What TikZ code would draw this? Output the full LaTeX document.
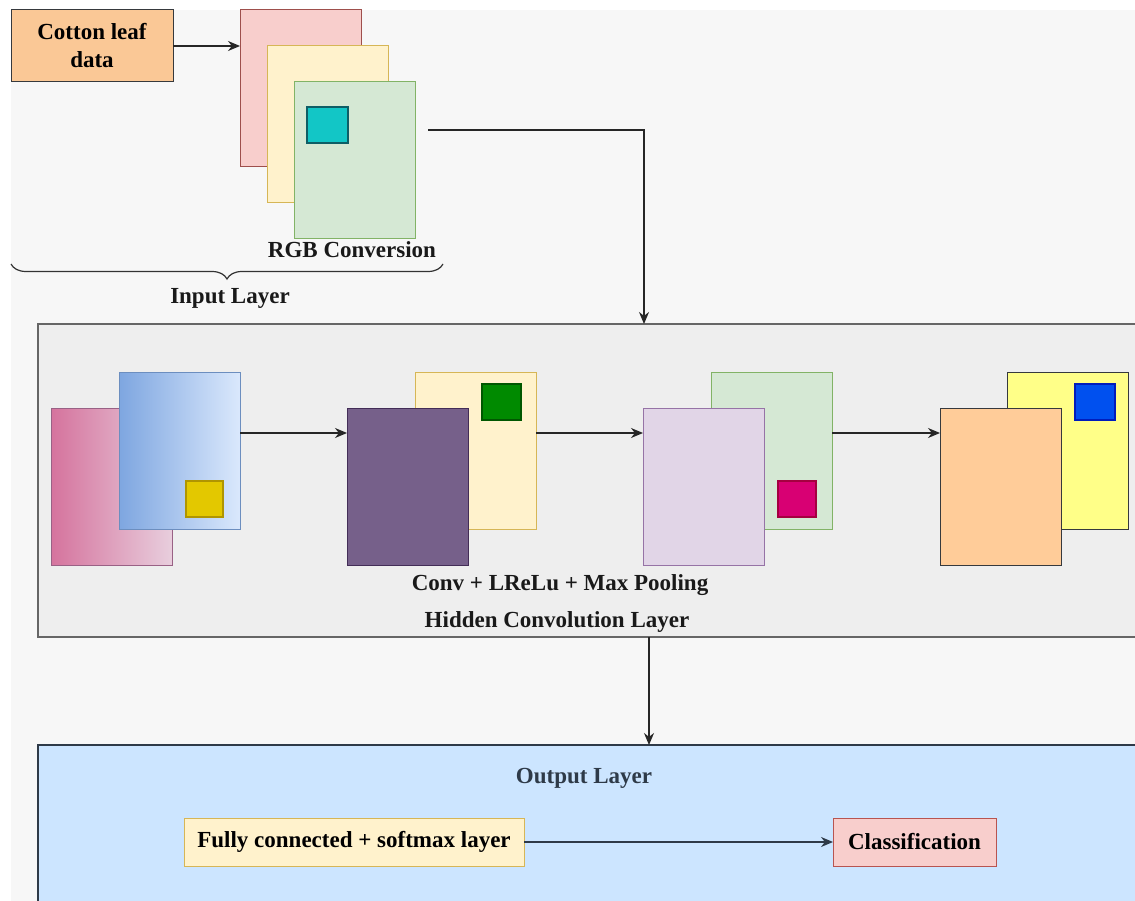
\documentclass[tikz,border=0pt]{standalone}
\usepackage{fontspec}
\setmainfont{Liberation Serif}
\usetikzlibrary{arrows.meta,decorations.pathreplacing}
\definecolor{bgF}{HTML}{F7F7F7}
\definecolor{dark}{HTML}{36393D}
\definecolor{orangeF}{HTML}{FAC896}
\definecolor{pinkF}{HTML}{F8CECC}
\definecolor{pinkD}{HTML}{9E4F4C}
\definecolor{creamF}{HTML}{FFF2CC}
\definecolor{creamD}{HTML}{D6B656}
\definecolor{greenF}{HTML}{D5E8D4}
\definecolor{greenD}{HTML}{82B366}
\definecolor{tealF}{HTML}{12C6C6}
\definecolor{tealD}{HTML}{0E5E66}
\definecolor{hidF}{HTML}{EEEEEE}
\definecolor{hidD}{HTML}{666666}
\definecolor{pgL}{HTML}{D5739D}
\definecolor{pgR}{HTML}{E8CEDD}
\definecolor{pgD}{HTML}{996185}
\definecolor{bgL}{HTML}{7EA6E0}
\definecolor{bgR}{HTML}{DAE8FC}
\definecolor{bgD}{HTML}{6C8EBF}
\definecolor{ysqF}{HTML}{E3C800}
\definecolor{ysqD}{HTML}{B09500}
\definecolor{gsqF}{HTML}{008A00}
\definecolor{gsqD}{HTML}{005700}
\definecolor{purpF}{HTML}{76608A}
\definecolor{purpD}{HTML}{432D57}
\definecolor{lavF}{HTML}{E1D5E7}
\definecolor{lavD}{HTML}{9673A6}
\definecolor{msqF}{HTML}{D80073}
\definecolor{msqD}{HTML}{A50040}
\definecolor{yelF}{HTML}{FFFF88}
\definecolor{bsqF}{HTML}{0050EF}
\definecolor{bsqD}{HTML}{001DBC}
\definecolor{orgF}{HTML}{FFCC99}
\definecolor{outF}{HTML}{CCE5FF}
\definecolor{outD}{HTML}{2E3A48}
\definecolor{clsD}{HTML}{B85450}
\begin{document}
\begin{tikzpicture}[x=1pt,y=-1pt,
  font=\bfseries\fontsize{23}{27}\selectfont,
  lay/.style={rectangle, inner sep=0pt, outer sep=0pt, minimum width=121pt, minimum height=157pt, anchor=north west, line width=1pt},
  sq/.style={rectangle, inner sep=0pt, outer sep=0pt, minimum width=39pt, minimum height=36pt, anchor=north west, line width=1.2pt},
  txtbox/.style={rectangle, inner sep=0pt, outer sep=0pt, align=center, line width=1pt},
  lbl/.style={inner sep=0pt, text=black!90},
  arr/.style={-{Stealth[length=12pt,width=10pt]}, line width=1.2pt, draw=black!85}]
\useasboundingbox (0,0) rectangle (1135,901);
\fill[bgF] (11,10) rectangle (1135,901);

% ---------- input layer ----------
\node[txtbox, fill=orangeF, draw=dark, minimum width=162pt, minimum height=72pt] (cot) at (92,46) {Cotton leaf\\[1pt]data};
\node[lay, fill=pinkF, draw=pinkD] (r1) at (240,10) {};
\node[lay, fill=creamF, draw=creamD] (r2) at (267,46) {};
\node[lay, fill=greenF, draw=greenD] (r3) at (294,82) {};
\node[sq, fill=tealF, draw=tealD, minimum width=41pt] (s1) at (307,107) {};
\draw[arr] (cot.east) -- (cot.east -| r1.west);
\node[lbl] (rgb) at (352,250) {RGB Conversion};
\coordinate (brR) at (443,264);
\coordinate (brL) at (11,264);
\draw[line width=1.2pt, draw=black!80, decoration={brace, amplitude=15pt}, decorate] (brR) -- (brL);
\node[lbl] (inl) at (230,298) {Input Layer};

% ---------- hidden layer ----------
\node[rectangle, inner sep=0pt, outer sep=0pt, fill=hidF, minimum width=1097pt, minimum height=313pt, anchor=north west] (hidden) at (38,324) {};
\draw[hidD, line width=1.3pt] (hidden.north east) -- (hidden.north west) -- (hidden.south west) -- (hidden.south east);

\coordinate (rgbout) at (428,130);
\coordinate (drop) at (644,324);
\draw[arr] (rgbout) -| (drop);

\coordinate (h) at (0,433);
% group 1
\node[lay, left color=pgL, right color=pgR, draw=pgD] (g1b) at (51,408) {};
\node[lay, left color=bgL, right color=bgR, draw=bgD] (g1f) at (119,372) {};
\node[sq, fill=ysqF, draw=ysqD, minimum width=37pt] (s2) at (186,481) {};
% group 2
\node[lay, fill=creamF, draw=creamD] (g2b) at (415,372) {};
\node[sq, fill=gsqF, draw=gsqD] (s3) at (482,384) {};
\node[lay, fill=purpF, draw=purpD] (g2f) at (347,408) {};
% group 3
\node[lay, fill=greenF, draw=greenD] (g3b) at (711,372) {};
\node[sq, fill=msqF, draw=msqD, minimum width=38pt] (s4) at (778,481) {};
\node[lay, fill=lavF, draw=lavD] (g3f) at (643,408) {};
% group 4
\node[lay, fill=yelF, draw=dark] (g4b) at (1007,372) {};
\node[sq, fill=bsqF, draw=bsqD, minimum width=40pt] (s5) at (1075,384) {};
\node[lay, fill=orgF, draw=dark] (g4f) at (940,408) {};

\draw[arr] (g1f.east |- h) -- (g2f.west |- h);
\draw[arr] (g2b.east |- h) -- (g3f.west |- h);
\draw[arr] (g3b.east |- h) -- (g4f.west |- h);

\node[lbl] (conv) at (560,585) {Conv + LReLu + Max Pooling};
\node[lbl] (hcl) at (557,622) {Hidden Convolution Layer};

% ---------- output layer ----------
\node[rectangle, inner sep=0pt, outer sep=0pt, fill=outF, minimum width=1097pt, minimum height=156pt, anchor=north west] (outbox) at (38,745) {};
\draw[outD, line width=1.3pt] (outbox.north east) -- (outbox.north west) -- (outbox.south west);

\coordinate (hout) at (649,637);
\draw[arr] (hout) -- (hout |- outbox.north);

\node[lbl, text=outD] (outl) at (584,778) {Output Layer};
\node[txtbox, fill=creamF, draw=creamD, minimum width=340pt, minimum height=48pt] (fc) at (354,842) {Fully connected + softmax layer};
\node[txtbox, fill=pinkF, draw=clsD, minimum width=163pt, minimum height=48pt] (cls) at (914.5,842) {Classification};
\draw[arr, draw=outD] (fc.east) -- (cls.west);
\end{tikzpicture}
\end{document}
